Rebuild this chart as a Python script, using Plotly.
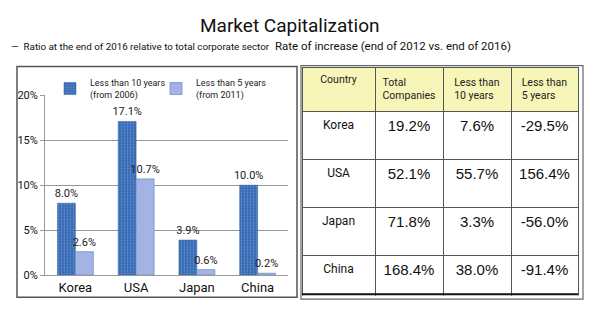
import plotly.graph_objects as go

countries = ["Korea", "USA", "Japan", "China"]
less10 = [8.0, 17.1, 3.9, 10.0]
less5 = [2.6, 10.7, 0.6, 0.2]
series_names = ["Less than 10 years<br>(from 2006)", "Less than 5 years<br>(from 2011)"]
y_ticks = [0, 5, 10, 15, 20]
y_tick_labels = ["0%", "5%", "10%", "15%", "20%"]

table_header = ["Country", "Total<br>Companies", "Less than<br>10 years", "Less than<br>5 years"]
total_companies = ["19.2%", "52.1%", "71.8%", "168.4%"]
rate_less10 = ["7.6%", "55.7%", "3.3%", "38.0%"]
rate_less5 = ["-29.5%", "156.4%", "-56.0%", "-91.4%"]

NARROW = "Roboto, sans-serif"
ARIAL = "Liberation Sans, Arial, sans-serif"
W, H = 600, 333

def px_x(x):
    return x / W

def px_y(y):
    return (H - y) / H

fig = go.Figure()
fig.add_trace(go.Bar(
    x=countries, y=less10, name=series_names[0], legend="legend",
    marker=dict(color="#2f63ae", line=dict(color="#2a5aa0", width=0.5),
                pattern=dict(shape=".", fgcolor="#86aee6", size=3, solidity=0.45)),
    text=[f"{v:.1f}%" for v in less10], textposition="outside", constraintext="none",
    textfont=dict(family=NARROW, size=11, color="#222"), cliponaxis=False,
))
fig.add_trace(go.Bar(
    x=countries, y=less5, name=series_names[1], legend="legend2",
    marker=dict(color="#a3b3e3", line=dict(color="#6f8fcc", width=0.8)),
    text=[f"{v:.1f}%" for v in less5], textposition="outside", constraintext="none",
    textfont=dict(family=NARROW, size=11, color="#222"), cliponaxis=False,
))

fig.add_trace(go.Table(
    domain=dict(x=[px_x(302), px_x(578)], y=[px_y(302), px_y(64)]),
    columnwidth=[73, 68, 68, 67],
    header=dict(values=table_header, fill_color="#f8f5b9",
                line=dict(color="#555", width=1), height=44, align="center",
                font=dict(family=NARROW, size=10.5, color="#222")),
    cells=dict(values=[countries, total_companies, rate_less10, rate_less5],
               fill_color="white", line=dict(color="#555", width=1), height=48,
               align="center",
               font=dict(family=[NARROW, ARIAL, ARIAL, ARIAL], size=[12, 15, 15, 15], color="#111")),
))

legend_common = dict(orientation="h", xanchor="left", yanchor="top",
                     font=dict(family=NARROW, size=9, color="#222"),
                     itemwidth=30, bgcolor="rgba(0,0,0,0)")

fig.update_layout(
    width=W, height=H, margin=dict(l=0, r=0, t=0, b=0),
    paper_bgcolor="white", plot_bgcolor="white",
    barmode="group", bargap=0.41, bargroupgap=0,
    showlegend=True,
    legend=dict(x=px_x(50), y=px_y(67), **legend_common),
    legend2=dict(x=px_x(156), y=px_y(67), **legend_common),
    xaxis=dict(domain=[px_x(45), px_x(288)], showline=True, linecolor="#999",
               ticks="", tickfont=dict(family=NARROW, size=13, color="#111"),
               showgrid=False),
    yaxis=dict(domain=[px_y(280), px_y(93)], range=[0, 20], tickvals=y_ticks,
               ticktext=y_tick_labels, showgrid=True, gridcolor="#999", gridwidth=1,
               showline=True, linecolor="#999", ticks="outside", ticklen=4, tickcolor="#999",
               tickfont=dict(family=NARROW, size=11, color="#111"), zeroline=False),
    font=dict(family=NARROW),
)

# frames
fig.add_shape(type="rect", xref="paper", yref="paper",
              x0=px_x(17), x1=px_x(297), y0=px_y(303), y1=px_y(63),
              line=dict(color="#555", width=1.5), layer="above")
fig.add_shape(type="rect", xref="paper", yref="paper",
              x0=px_x(301), x1=px_x(583), y0=px_y(305), y1=px_y(62),
              line=dict(color="#666", width=1.2), layer="above")
fig.add_shape(type="line", xref="paper", yref="paper",
              x0=px_x(302), x1=px_x(578), y0=px_y(300), y1=px_y(300),
              line=dict(color="#111", width=2), layer="above")

fig.add_annotation(text="Market Capitalization", x=px_x(290), y=px_y(20), xref="paper", yref="paper",
                   yanchor="middle", showarrow=False, font=dict(family=NARROW, size=19, color="#111"))
fig.add_annotation(text="—  Ratio at the end of 2016 relative to total corporate sector",
                   x=px_x(9), y=px_y(42), xref="paper", yref="paper", xanchor="left", yanchor="middle",
                   showarrow=False, font=dict(family=NARROW, size=9.8, color="#111"))
fig.add_annotation(text="Rate of increase (end of 2012 vs. end of 2016)",
                   x=px_x(273), y=px_y(42), xref="paper", yref="paper", xanchor="left", yanchor="middle",
                   showarrow=False, font=dict(family=NARROW, size=11.5, color="#111"))

fig.write_html("out.html")
